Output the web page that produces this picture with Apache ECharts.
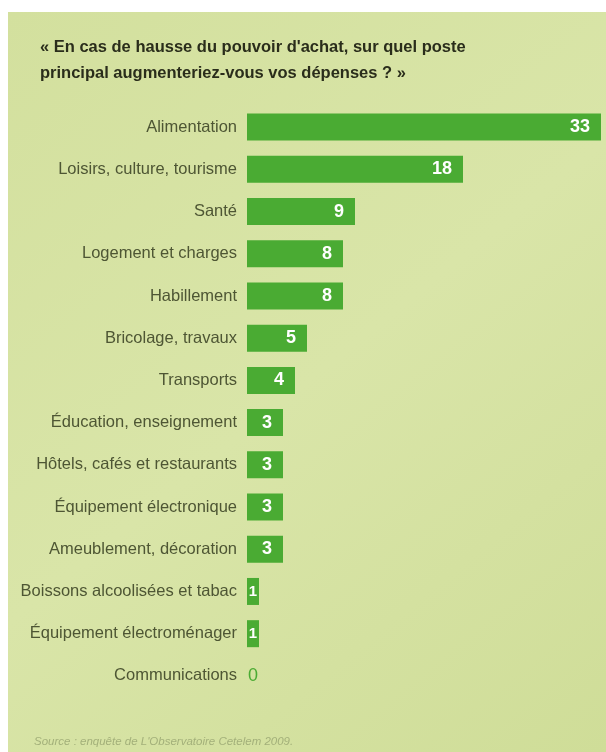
<!DOCTYPE html>
<html>
<head>
<meta charset="utf-8">
<script src="https://cdn.jsdelivr.net/npm/echarts@6/dist/echarts.min.js"></script>
<style>
html,body{margin:0;padding:0;background:#ffffff;}
#chart{position:absolute;left:8px;top:12px;width:598px;height:740px;}
</style>
</head>
<body>
<div id="chart"></div>
<script>
var categories = [
  "Alimentation",
  "Loisirs, culture, tourisme",
  "Santé",
  "Logement et charges",
  "Habillement",
  "Bricolage, travaux",
  "Transports",
  "Éducation, enseignement",
  "Hôtels, cafés et restaurants",
  "Équipement électronique",
  "Ameublement, décoration",
  "Boissons alcoolisées et tabac",
  "Équipement électroménager",
  "Communications"
];
var values = [33, 18, 9, 8, 8, 5, 4, 3, 3, 3, 3, 1, 1, 0];
var titleText = "« En cas de hausse du pouvoir d'achat, sur quel poste\nprincipal augmenteriez-vous vos dépenses ? »";
var sourceText = "Source : enquête de L'Observatoire Cetelem 2009.";

var FONT = "'Liberation Sans', Arial, sans-serif";
var barColor = "#4aab33";
var seriesData = values.map(function (v) {
  var item = { value: v };
  if (v === 0) {
    item.label = { position: "right", distance: 1, color: barColor, fontWeight: "normal" };
  } else if (v < 2) {
    item.label = { position: "inside", fontSize: 15 };
  }
  return item;
});

var chart = echarts.init(document.getElementById("chart"));
chart.setOption({
  backgroundColor: {
    type: "linear", x: 0, y: 0, x2: 1, y2: 1,
    colorStops: [
      { offset: 0, color: "#d3e09e" },
      { offset: 0.5, color: "#d9e5a8" },
      { offset: 1, color: "#cfdd98" }
    ]
  },
  animation: false,
  title: [
    {
      text: titleText,
      left: 27,
      top: 17,
      textStyle: {
        fontFamily: FONT,
        fontWeight: "bold",
        fontSize: 16.5,
        lineHeight: 26,
        color: "#2a2d1b"
      }
    },
    {
      text: sourceText,
      left: 21,
      top: 718,
      textStyle: {
        fontFamily: FONT,
        fontStyle: "italic",
        fontWeight: "normal",
        fontSize: 11.5,
        lineHeight: 14,
        color: "#a3b07a"
      }
    }
  ],
  grid: { left: 239, right: 5, top: 94, bottom: 55, containLabel: false },
  xAxis: {
    type: "value",
    min: 0,
    max: 29.5,
    show: false,
    splitLine: { show: false }
  },
  yAxis: {
    type: "category",
    data: categories,
    inverse: true,
    axisLine: { show: false },
    axisTick: { show: false },
    axisLabel: {
      margin: 10,
      fontFamily: FONT,
      fontSize: 16.5,
      color: "#4e5634"
    }
  },
  series: [{
    type: "bar",
    data: seriesData,
    barWidth: 27,
    clip: true,
    itemStyle: { color: barColor },
    label: {
      show: true,
      position: "insideRight",
      distance: 11,
      color: "#ffffff",
      fontFamily: FONT,
      fontWeight: "bold",
      fontSize: 18
    }
  }]
});
</script>
</body>
</html>
